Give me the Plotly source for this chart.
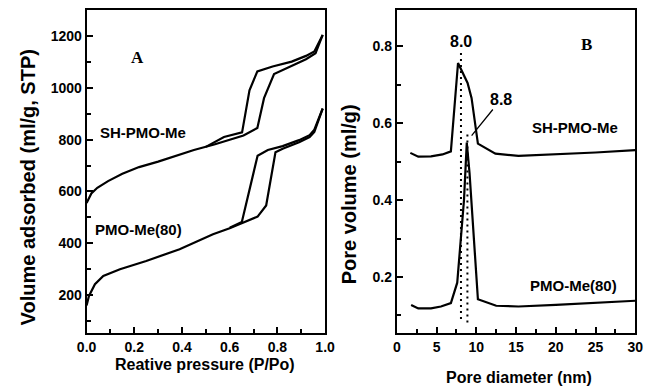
import plotly.graph_objects as go

# ---------------- Data: panel A (N2 isotherms) ----------------
sh_ads_x = [0.0, 0.01, 0.02, 0.045, 0.09, 0.15, 0.22, 0.30, 0.36, 0.45, 0.535, 0.60, 0.658, 0.716, 0.744, 0.786, 0.86, 0.92, 0.96, 0.99]
sh_ads_y = [555, 575, 592, 614, 640, 668, 694, 715, 733, 760, 781, 800, 816, 845, 960, 1053, 1085, 1110, 1133, 1204]
sh_des_x = [0.99, 0.955, 0.92, 0.86, 0.78, 0.716, 0.683, 0.652, 0.576, 0.50]
sh_des_y = [1204, 1140, 1123, 1101, 1082, 1063, 990, 828, 810, 772]

pmo_ads_x = [0.0, 0.01, 0.035, 0.07, 0.14, 0.25, 0.39, 0.53, 0.60, 0.655, 0.717, 0.753, 0.792, 0.822, 0.891, 0.935, 0.955, 0.99]
pmo_ads_y = [160, 197, 242, 274, 300, 332, 377, 435, 458, 478, 503, 546, 751, 765, 790, 810, 830, 920]
pmo_des_x = [0.99, 0.955, 0.935, 0.891, 0.822, 0.76, 0.717, 0.651, 0.60]
pmo_des_y = [920, 838, 817, 798, 775, 760, 738, 482, 460]

# ---------------- Data: panel B (pore size distribution) ----------------
sh_psd_x = [1.7, 2.7, 4.3, 5.75, 6.8, 7.7, 8.9, 9.4, 10.2, 10.8, 12.4, 15.3, 20, 25, 30]
sh_psd_y = [0.523, 0.513, 0.514, 0.519, 0.527, 0.757, 0.705, 0.666, 0.547, 0.540, 0.521, 0.515, 0.519, 0.524, 0.530]
pmo_psd_x = [1.8, 2.7, 4.3, 5.55, 6.8, 7.6, 8.45, 8.8, 9.15, 10.2, 12.5, 15.3, 20, 25, 30]
pmo_psd_y = [0.127, 0.118, 0.118, 0.123, 0.132, 0.185, 0.40, 0.55, 0.47, 0.142, 0.125, 0.123, 0.127, 0.132, 0.138]

peak_sh_x = [8.07, 8.07]
peak_sh_y = [0.783, 0.086]
peak_pmo_x = [8.88, 8.88]
peak_pmo_y = [0.571, 0.077]

peak_labels = ["8.0", "8.8"]
series_names = ["SH-PMO-Me", "PMO-Me(80)"]

FONT = "Liberation Sans, Arial, sans-serif"
SERIF = "Liberation Serif, Times New Roman, serif"

fig = go.Figure()

line = dict(color="black", width=2.2)
for xs, ys in [(sh_ads_x, sh_ads_y), (sh_des_x, sh_des_y), (pmo_ads_x, pmo_ads_y), (pmo_des_x, pmo_des_y)]:
    fig.add_trace(go.Scatter(x=xs, y=ys, mode="lines", line=line, xaxis="x", yaxis="y",
                             showlegend=False, hoverinfo="skip"))

for xs, ys in [(sh_psd_x, sh_psd_y), (pmo_psd_x, pmo_psd_y)]:
    fig.add_trace(go.Scatter(x=xs, y=ys, mode="lines", line=line, xaxis="x2", yaxis="y2",
                             showlegend=False, hoverinfo="skip"))

for xs, ys in [(peak_sh_x, peak_sh_y), (peak_pmo_x, peak_pmo_y)]:
    fig.add_trace(go.Scatter(x=xs, y=ys, mode="lines",
                             line=dict(color="black", width=2, dash="2px,4px"),
                             xaxis="x2", yaxis="y2", showlegend=False, hoverinfo="skip"))

tickfont = dict(family=FONT, size=14, color="black", weight="bold")
common = dict(showline=True, linewidth=2, linecolor="black", mirror=True,
              ticks="inside", ticklen=6, tickwidth=2, tickcolor="black",
              showgrid=False, zeroline=False, tickfont=tickfont)

W, H = 655, 388
def px_x(a, b):
    return [a / W, b / W]
def px_y(top, bottom):
    return [1 - bottom / H, 1 - top / H]

fig.update_layout(
    width=W, height=H,
    margin=dict(l=0, r=0, t=0, b=0),
    paper_bgcolor="white", plot_bgcolor="white",
    xaxis=dict(domain=px_x(79, 325), range=[0, 1.0], dtick=0.2, tick0=0, tickformat=".1f",
               minor=dict(dtick=0.1, ticks="inside", ticklen=4, tickwidth=2, tickcolor="black", showgrid=False),
               anchor="y", **common),
    yaxis=dict(domain=px_y(10, 333), range=[54, 1300], dtick=200, tick0=0,
               minor=dict(dtick=100, ticks="inside", ticklen=4, tickwidth=2, tickcolor="black", showgrid=False),
               anchor="x", **common),
    xaxis2=dict(domain=px_x(399, 645), range=[0, 30], dtick=5, tick0=0,
                minor=dict(dtick=2.5, ticks="inside", ticklen=4, tickwidth=2, tickcolor="black", showgrid=False),
                anchor="y2", **common),
    yaxis2=dict(domain=px_y(10, 333), range=[0.054, 0.895], dtick=0.2, tick0=0, tickformat=".1f",
                minor=dict(dtick=0.1, ticks="inside", ticklen=4, tickwidth=2, tickcolor="black", showgrid=False),
                anchor="x2", **common),
)

lab = dict(family=FONT, size=15, color="black")
ann = []
# panel A labels
ann.append(dict(x=0.214, y=1118, xref="x", yref="y", text="<b>A</b>", showarrow=False,
                font=dict(family=SERIF, size=17, color="black")))
ann.append(dict(x=0.237, y=826, xref="x", yref="y", text="<b>%s</b>" % series_names[0], showarrow=False, font=lab))
ann.append(dict(x=0.216, y=454, xref="x", yref="y", text="<b>%s</b>" % series_names[1], showarrow=False, font=lab))
# panel B labels
ann.append(dict(x=23.8, y=0.804, xref="x2", yref="y2", text="<b>B</b>", showarrow=False,
                font=dict(family=SERIF, size=17, color="black")))
ann.append(dict(x=22.4, y=0.588, xref="x2", yref="y2", text="<b>%s</b>" % series_names[0], showarrow=False, font=lab))
ann.append(dict(x=22.2, y=0.177, xref="x2", yref="y2", text="<b>%s</b>" % series_names[1], showarrow=False, font=lab))
ann.append(dict(x=8.07, y=0.812, xref="x2", yref="y2", text="<b>%s</b>" % peak_labels[0], showarrow=False,
                font=dict(family=FONT, size=16, color="black")))
ann.append(dict(x=9.41, y=0.568, xref="x2", yref="y2", ax=13.1, ay=0.662, axref="x2", ayref="y2",
                text="<b>%s</b>" % peak_labels[1], showarrow=True, arrowhead=0, arrowwidth=1.3,
                arrowcolor="black", font=dict(family=FONT, size=16, color="black")))
# axis titles
tf = dict(family=FONT, size=16, color="black")
tfv = dict(family=FONT, size=20, color="black")
ann.append(dict(x=201 / W, y=1 - 364 / H, xref="paper", yref="paper", text="<b>Reative pressure (P/Po)</b>",
                showarrow=False, font=tf, xanchor="center", yanchor="middle"))
ann.append(dict(x=525 / W, y=1 - 377 / H, xref="paper", yref="paper", text="<b>Pore diameter (nm)</b>",
                showarrow=False, font=tf, xanchor="center", yanchor="middle"))
ann.append(dict(x=19 / W, y=1 - 187 / H, xref="paper", yref="paper", text="<b>Volume adsorbed (ml/g, STP)</b>",
                showarrow=False, font=tfv, textangle=-90, xanchor="center", yanchor="middle"))
ann.append(dict(x=350 / W, y=1 - 194 / H, xref="paper", yref="paper", text="<b>Pore volume (ml/g)</b>",
                showarrow=False, font=tfv, textangle=-90, xanchor="center", yanchor="middle"))
fig.update_layout(annotations=ann)

fig.write_html("out.html", config={"displayModeBar": False, "staticPlot": True},
               post_script="document.body.style.margin='0';document.body.style.overflow='hidden';")
